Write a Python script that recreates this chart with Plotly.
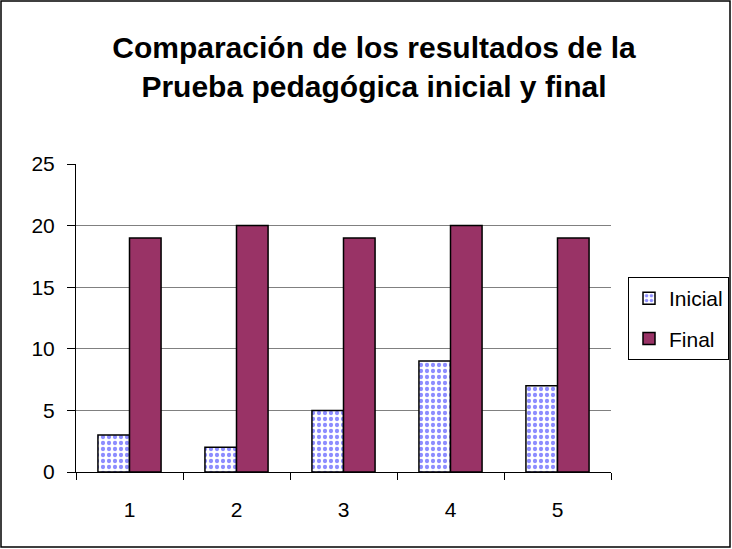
import plotly.graph_objects as go

categories = ["1", "2", "3", "4", "5"]
inicial = [3, 2, 5, 9, 7]
final = [19, 20, 19, 20, 19]
y_ticks = [0, 5, 10, 15, 20, 25]

W, H = 732, 549
L, R, T, B = 76, 611, 164, 472
pw, ph = R - L, B - T

def px(x):
    return (x - L) / pw

def py(y):
    return (B - y) / ph

FONT = "Liberation Sans, Arial, sans-serif"

fig = go.Figure()
fig.add_trace(go.Bar(
    x=categories, y=inicial, name="Inicial", legendgroup="a",
    marker=dict(color="white", line=dict(color="black", width=1.5),
                pattern=dict(shape=".", fgcolor="#8c8cff", bgcolor="white",
                             size=6, solidity=0.4, fillmode="replace")),
))
fig.add_trace(go.Bar(
    x=categories, y=final, name="Final", legendgroup="b",
    marker=dict(color="#993366", line=dict(color="black", width=1.5)),
))

fig.update_layout(
    autosize=False, width=W, height=H,
    margin=dict(l=L, r=W - R, t=T, b=H - B, pad=0, autoexpand=False),
    paper_bgcolor="white", plot_bgcolor="white",
    barmode="group", bargap=0.41, bargroupgap=0,
    font=dict(family=FONT, size=21, color="black"),
    title=dict(text="<b>Comparación de los resultados de la<br>Prueba pedagógica inicial y final</b>",
               x=374 / W, xanchor="center", y=1 - 57.5 / H, yanchor="middle",
               font=dict(family=FONT, size=30, color="black")),
    showlegend=True,
    legend=dict(xref="container", yref="container",
                x=729 / W, xanchor="right", y=1 - 277 / H, yanchor="top",
                bordercolor="black", borderwidth=1, bgcolor="white",
                font=dict(family=FONT, size=21), tracegroupgap=10,
                itemwidth=30),
    xaxis=dict(type="category", showline=True, linecolor="black", linewidth=1,
               ticks="outside", tickson="boundaries", ticklen=7, tickcolor="black",
               showgrid=False, ticklabelstandoff=19),
    yaxis=dict(range=[0, 25], tickvals=y_ticks, showline=True, linecolor="black",
               linewidth=1, ticks="outside", ticklen=8, tickcolor="black",
               showgrid=True, gridcolor="#808080", gridwidth=1, zeroline=False,
               ticklabelstandoff=8),
    shapes=[dict(type="rect", xref="paper", yref="paper",
                 x0=px(1), x1=px(730), y0=py(547), y1=py(1),
                 line=dict(color="black", width=1.5), fillcolor="rgba(0,0,0,0)")],
)

fig.write_html(
    "out.html",
    config={"displayModeBar": False, "responsive": False},
    post_script="document.body.style.margin='0';document.body.style.overflow='hidden';",
)
